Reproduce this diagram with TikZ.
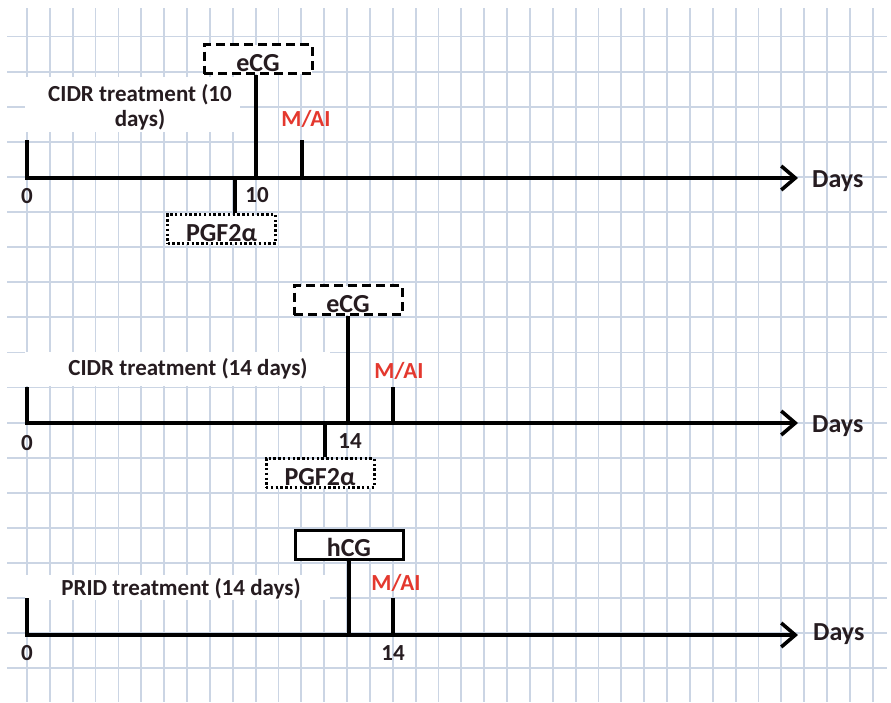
\documentclass[tikz,border=0pt]{standalone}
\usepackage{fontspec}
\setmainfont{Carlito}
\usetikzlibrary{arrows.meta,positioning}
\definecolor{gridblue}{RGB}{203,213,228}
\definecolor{maired}{RGB}{228,56,46}
\definecolor{inkdark}{RGB}{38,28,32}
\tikzset{
  gridline/.style = {line width=1.8pt, gridblue},
  patch/.style    = {fill=white},
  timeline/.style = {line width=3.6pt, line join=miter,
                     -{Straight Barb[length=14pt,width=24pt]}},
  tick/.style     = {line width=3.2pt},
  lbl/.style      = {font=\fontsize{23}{25}\selectfont\bfseries, text=inkdark, inner sep=0pt},
  biglbl/.style   = {lbl, font=\fontsize{26}{28}\selectfont\bfseries},
  redlbl/.style   = {lbl, text=maired},
  hbox/.style     = {biglbl, draw=black, fill=white, line width=3pt, inner xsep=4pt, inner ysep=2.5pt,
                     text height=24pt, text depth=0pt, minimum width=108pt, minimum height=29pt},
  dashbox/.style  = {hbox, dash pattern=on 9pt off 5pt},
  dotbox/.style   = {hbox, dash pattern=on 2.4pt off 2.4pt},
}

\begin{document}
\begin{tikzpicture}[x=1pt,y=-1pt]
  \useasboundingbox (0,0) rectangle (891,702);
  \fill[white] (0,0) rectangle (891,702);
  \foreach \k in {0,...,37}
    \draw[gridline] ({27+22.86*\k},8) -- ({27+22.86*\k},702);
  \foreach \k in {0,...,18}
    \draw[gridline] (7,{36.5+35.1*\k}) -- (887,{36.5+35.1*\k});

  \fill[patch] (25,77) rectangle (240,132);
  \fill[patch] (25,352) rectangle (330,386);
  \fill[patch] (25,575) rectangle (330,600);

  % CIDR, 10 days
  \coordinate (start1) at (27,140);
  \coordinate (o1) at (27,178);
  \coordinate (end1) at (798,178);
  \coordinate (ecgday1) at (256,178);
  \coordinate (pgfday1) at (235,178);
  \coordinate (aiday1) at (302,178);
  \node[dashbox] (ecg1) at (258,59) {eCG};
  \node[dotbox] (pgf1) at (221.5,229) {PGF2α};
  \draw[timeline] (start1) -- (o1) -- (end1);
  \draw[tick] (ecgday1) -- (ecgday1 |- ecg1.south);
  \draw[tick] (pgfday1) -- (pgfday1 |- pgf1.north);
  \draw[tick] (aiday1) -- (aiday1 |- start1);
  \node[lbl, align=center] (cidr1) at (140,107) {CIDR treatment (10\\days)};
  \node[redlbl, anchor=base] (ai1) at (306,126) {M/AI};
  \node[lbl, anchor=base] (zero1) at (27,203) {0};
  \node[lbl, anchor=base] (ten1) at (257,202) {10};
  \node[biglbl, anchor=base west] (days1) at (812,187) {Days};

  % CIDR, 14 days
  \coordinate (start2) at (27,387);
  \coordinate (o2) at (27,423);
  \coordinate (end2) at (798,423);
  \coordinate (pgfday2) at (325,423);
  \coordinate (aiday2) at (393,423);
  \node[dashbox] (ecg2) at (348,300) {eCG};
  \node[dotbox] (pgf2) at (320,473) {PGF2α};
  \draw[timeline] (start2) -- (o2) -- (end2);
  \draw[tick] (ecg2.south) -- (ecg2.south |- o2);
  \draw[tick] (pgfday2) -- (pgfday2 |- pgf2.north);
  \draw[tick] (aiday2) -- (aiday2 |- start2);
  \node[lbl, anchor=base] (cidr2) at (188,375) {CIDR treatment (14 days)};
  \node[redlbl, anchor=base] (ai2) at (399,378) {M/AI};
  \node[lbl, anchor=base] (zero2) at (27,450) {0};
  \node[lbl, anchor=base] (fourteen2) at (350,448) {14};
  \node[biglbl, anchor=base west] (days2) at (812,432) {Days};

  % PRID, 14 days
  \coordinate (start3) at (27,598);
  \coordinate (o3) at (27,635);
  \coordinate (end3) at (798,635);
  \coordinate (aiday3) at (393,635);
  \node[hbox] (hcg3) at (349,544.5) {hCG};
  \draw[timeline] (start3) -- (o3) -- (end3);
  \draw[tick] (hcg3.south) -- (hcg3.south |- o3);
  \draw[tick] (aiday3) -- (aiday3 |- start3);
  \node[lbl, anchor=base] (prid3) at (181,595) {PRID treatment (14 days)};
  \node[redlbl, anchor=base] (ai3) at (396,590) {M/AI};
  \node[lbl, anchor=base] (zero3) at (27,660) {0};
  \node[lbl, anchor=base] (fourteen3) at (393,660) {14};
  \node[biglbl, anchor=base west] (days3) at (813,640) {Days};
\end{tikzpicture}
\end{document}
